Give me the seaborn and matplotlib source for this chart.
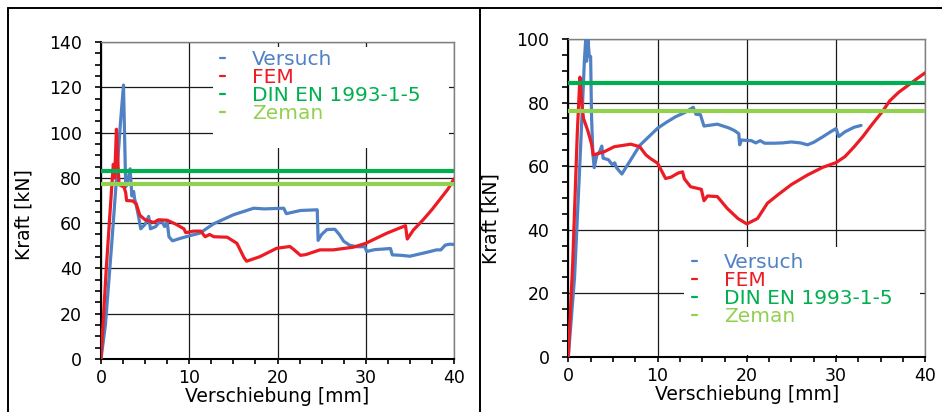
import matplotlib
matplotlib.use("Agg")
import matplotlib.pyplot as plt
import pandas as pd
import seaborn as sns
from matplotlib.lines import Line2D
from matplotlib.patches import Rectangle
from matplotlib.ticker import MultipleLocator

# --- left test: Versuch / FEM / reference loads ---
left_versuch_x = [0, 0.5, 1.2, 1.8, 2.2, 2.55, 2.8, 3.1, 3.3, 3.5, 3.7, 3.8, 4.1, 4.3, 4.5,
                  5.0, 5.4, 5.6, 6.2, 6.5, 6.9, 7.2, 7.5, 7.7, 8.1, 9.0, 10.0, 11.2, 12.75,
                  15.0, 17.3, 18.5, 20.7, 21.0, 22.6, 24.5, 24.6, 25.0, 25.6, 26.5, 27.0,
                  27.5, 28.2, 29.0, 29.9, 30.1, 31.0, 32.8, 33.0, 34.0, 35.0, 36.0, 37.0,
                  38.0, 38.5, 39.0, 39.5, 40.0]
left_versuch_y = [0, 15, 50, 82, 104, 121, 76, 80, 84, 72, 74, 71, 66, 62, 57.5,
                  59.5, 63, 57.5, 58.5, 60, 61, 58.5, 60.5, 54, 52.2, 53.3, 54.4, 55.6, 59.7,
                  63.7, 66.6, 66.3, 66.6, 64.2, 65.6, 65.9, 52.4, 55, 57.2, 57.3, 55,
                  52, 50.2, 49.6, 49.6, 47.5, 48.3, 48.8, 46, 45.8, 45.4, 46.3, 47.2,
                  48.2, 48.2, 50.3, 50.7, 50.6]

left_fem_x = [0, 0.6, 1.2, 1.4, 1.55, 1.75, 1.9, 2.05, 2.6, 2.8, 2.9, 3.6, 4.0, 4.2, 4.4,
              5.0, 6.0, 6.5, 7.5, 8.5, 9.4, 9.6, 10.5, 11.3, 11.8, 12.3, 12.8, 14.3, 15.4,
              16.2, 16.5, 18.0, 19.9, 21.4, 21.8, 22.6, 23.2, 24.8, 26.3, 28.6, 30.0,
              32.4, 34.5, 34.7, 35.4, 36.5, 37.5, 38.5, 39.3, 40.0]
left_fem_y = [0, 40, 75, 86, 80, 101.5, 88, 77, 76, 73.5, 70, 69.8, 68.5, 66, 63.5,
              61.5, 60.3, 61.5, 61.3, 59.5, 57.5, 55.8, 56.5, 56.5, 54, 55, 54, 53.8, 51.1,
              44.8, 43.2, 45.2, 48.9, 49.7, 48.5, 45.8, 46.1, 48.2, 48.2, 49.4, 51.1,
              55.6, 58.9, 53.0, 57.0, 61.5, 66.0, 71.0, 75.0, 79.6]

left_din = 83.0
left_zeman = 77.5

# --- right test ---
right_versuch_x = [0, 0.7, 1.2, 1.6, 1.8, 1.95, 2.05, 2.2, 2.35, 2.5, 2.6, 2.75, 2.9, 3.2,
                   3.5, 3.75, 3.9, 4.5, 4.9, 5.2, 5.4, 6.0, 7.0, 8.0, 9.0, 10.0, 11.0, 12.0,
                   13.0, 14.0, 14.3, 14.8, 15.2, 16.7, 18.0, 18.6, 19.1, 19.2, 19.4, 20.5,
                   21.0, 21.5, 22.0, 23.0, 24.0, 25.0, 26.0, 26.8, 27.5, 28.5, 29.5, 30.0,
                   30.3, 31.0, 32.0, 32.8]
right_versuch_y = [0, 25, 55, 80, 93, 100, 93, 100, 94.5, 94.5, 76, 64, 59.5, 63.5,
                   64.5, 66.3, 62.5, 62, 60.5, 61, 59.5, 57.5, 62, 66.5, 69.2, 71.9, 73.8, 75.5,
                   76.8, 78.5, 76.3, 76.2, 72.6, 73.2, 72.0, 71.2, 70.2, 66.7, 68.2, 68.0,
                   67.3, 68.0, 67.2, 67.2, 67.3, 67.6, 67.3, 66.7, 67.5, 69.2, 71.0, 71.8,
                   69.3, 70.8, 72.2, 72.8]

right_fem_x = [0, 0.5, 1.0, 1.3, 1.5, 1.7, 2.2, 2.6, 2.8, 4.0, 5.15, 7.0, 8.0, 8.7, 9.2,
               10.0, 10.6, 10.9, 11.5, 12.3, 12.8, 13.0, 13.7, 14.9, 15.2, 15.6, 16.7,
               17.8, 19.0, 20.0, 21.2, 22.3, 23.5, 25.0, 26.8, 28.5, 30.0, 31.0, 32.0,
               33.0, 34.0, 35.2, 36.0, 37.0, 38.4, 39.2, 40.0]
right_fem_y = [0, 30, 70, 88, 80, 75, 71, 67, 63.5, 64.5, 66.1, 66.9, 66.1, 63.5, 62.4,
               60.9, 57.7, 56.1, 56.5, 57.8, 58.2, 56.0, 53.5, 52.7, 49.1, 50.6, 50.4,
               46.7, 43.5, 41.8, 43.5, 48.3, 51.0, 54.2, 57.2, 59.6, 61.1, 63.0, 66.0,
               69.3, 73.0, 77.2, 80.5, 83.2, 86.1, 87.8, 89.4]

right_din = 86.1
right_zeman = 77.2

series_names = ["Versuch", "FEM", "DIN EN 1993-1-5", "Zeman"]
colors = ["#4f81c4", "#ec1c24", "#00b050", "#92d050"]


def draw_panel(ax, vx, vy, fx, fy, din, zeman, ymax, ystep, yminor, legend_rect, legend_anchor):
    ax.set_axisbelow(True)
    ax.grid(True, which="major", color="#1a1a1a", linewidth=0.9)
    ax.add_patch(Rectangle(legend_rect[:2], legend_rect[2], legend_rect[3],
                           transform=ax.transAxes, facecolor="white",
                           edgecolor="none", zorder=1.2))

    versuch = pd.DataFrame({"x": vx, "y": vy})
    fem = pd.DataFrame({"x": fx, "y": fy})
    sns.lineplot(data=versuch, x="x", y="y", sort=False, estimator=None,
                 color=colors[0], linewidth=2.3, ax=ax, zorder=3)
    sns.lineplot(data=fem, x="x", y="y", sort=False, estimator=None,
                 color=colors[1], linewidth=2.3, ax=ax, zorder=4)
    ax.axhline(din, color=colors[2], linewidth=3.0, zorder=5)
    ax.axhline(zeman, color=colors[3], linewidth=3.0, zorder=6)

    ax.set_xlim(0, 40)
    ax.set_ylim(0, ymax)
    ax.xaxis.set_major_locator(MultipleLocator(10))
    ax.xaxis.set_minor_locator(MultipleLocator(2.5))
    ax.yaxis.set_major_locator(MultipleLocator(ystep))
    ax.yaxis.set_minor_locator(MultipleLocator(yminor))
    ax.tick_params(axis="y", which="both", direction="out", length=4.5, width=1.2,
                   labelsize=12.5, pad=9, left=True, right=False, color="black")
    ax.tick_params(axis="x", which="both", direction="out", length=3.5, width=1.2,
                   labelsize=12.5, pad=4, bottom=True, top=False, color="black")
    ax.set_xlabel("Verschiebung [mm]", fontsize=13.5, labelpad=0)
    ax.set_ylabel("Kraft [kN]", fontsize=13.5, labelpad=5)

    for side in ["left", "bottom"]:
        ax.spines[side].set_color("black")
        ax.spines[side].set_linewidth(1.5)
    for side in ["top", "right"]:
        ax.spines[side].set_color("#808080")
        ax.spines[side].set_linewidth(1.0)

    handles = [Line2D([], [], color=c, linewidth=1.6) for c in colors]
    ax.legend(handles, series_names, loc="upper left", bbox_to_anchor=legend_anchor,
              frameon=False, fontsize=14.5, handlelength=0.25, handletextpad=1.35,
              labelspacing=-0.05, borderpad=0, borderaxespad=0, labelcolor=colors)


sns.set_style("white")
plt.rcParams["font.family"] = ["DejaVu Sans"]
plt.rcParams["text.color"] = "black"
plt.rcParams["axes.labelcolor"] = "black"
plt.rcParams["xtick.color"] = "black"
plt.rcParams["ytick.color"] = "black"

fig = plt.figure(figsize=(9.42, 4.12), dpi=100)
ax_l = fig.add_axes([0.1072, 0.1286, 0.3748, 0.7694])
ax_r = fig.add_axes([0.6033, 0.1342, 0.3790, 0.7711])

draw_panel(ax_l, left_versuch_x, left_versuch_y, left_fem_x, left_fem_y,
           left_din, left_zeman, 140, 20, 5,
           (0.317, 0.666, 0.669, 0.318), (0.337, 0.975))
draw_panel(ax_r, right_versuch_x, right_versuch_y, right_fem_x, right_fem_y,
           right_din, right_zeman, 100, 20, 5,
           (0.324, 0.004, 0.662, 0.341), (0.346, 0.326))

ax_l.yaxis.set_label_coords(-0.19, 0.457)
ax_r.yaxis.set_label_coords(-0.19, 0.435)

# panel frames
frame_kw = dict(color="black", linewidth=1.4, transform=fig.transFigure)
fig.add_artist(Line2D([8 / 942, 1.0], [1 - 7.5 / 412, 1 - 7.5 / 412], **frame_kw))
fig.add_artist(Line2D([8 / 942, 8 / 942], [0, 1 - 7.5 / 412], **frame_kw))
fig.add_artist(Line2D([480 / 942, 480 / 942], [0, 1 - 7.5 / 412], **frame_kw))

fig.savefig("out.png", dpi=100)
